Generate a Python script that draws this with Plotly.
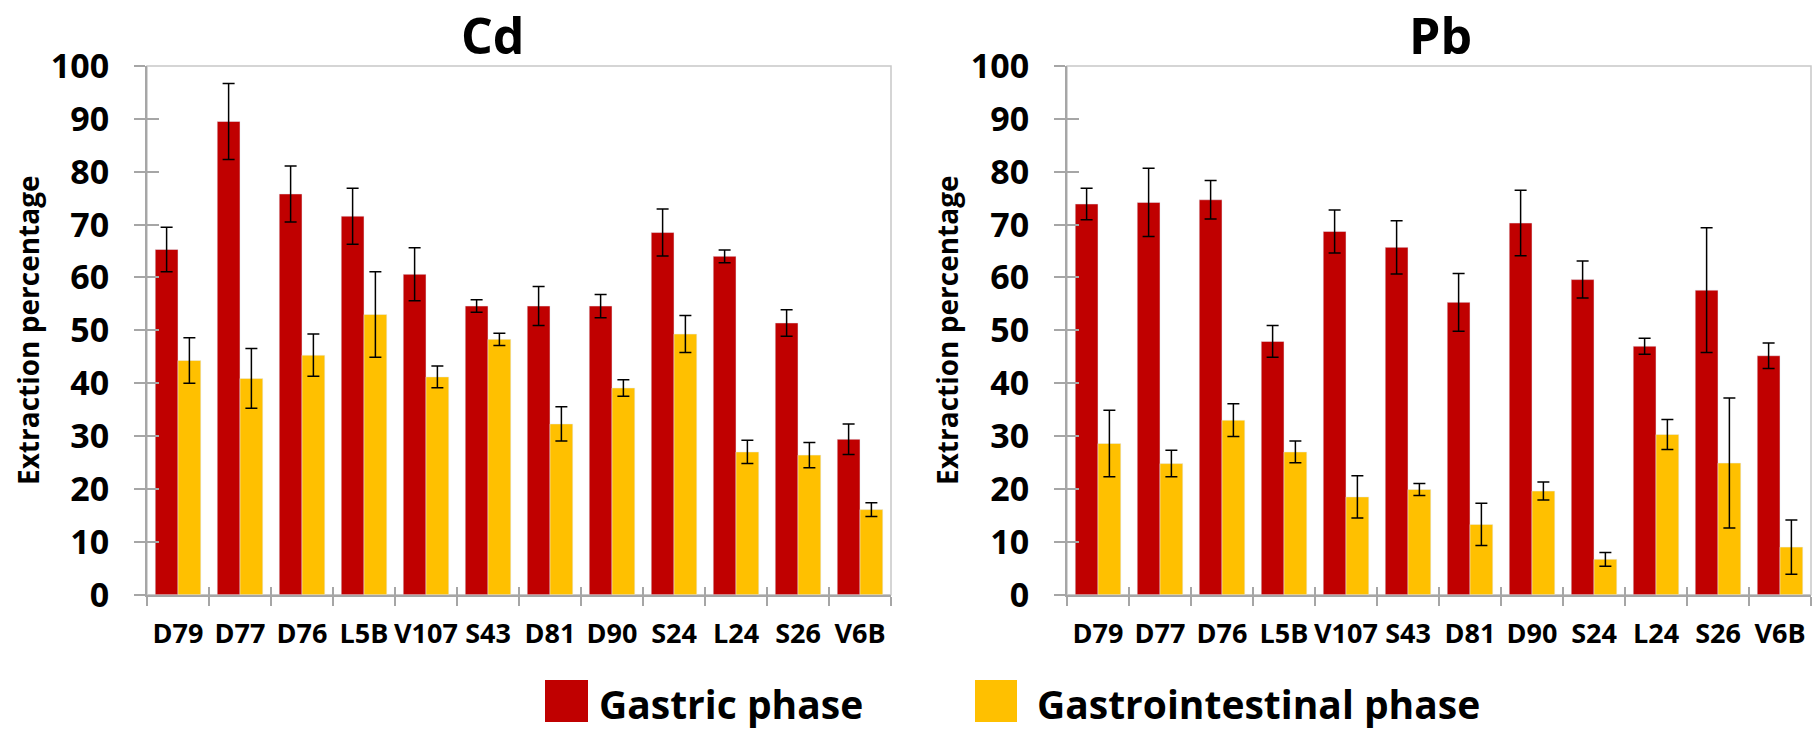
import plotly.graph_objects as go

categories = ["D79", "D77", "D76", "L5B", "V107", "S43", "D81", "D90", "S24", "L24", "S26", "V6B"]

cd_gastric = [65.3, 89.5, 75.8, 71.6, 60.6, 54.6, 54.6, 54.6, 68.5, 64.0, 51.4, 29.4]
cd_gastric_err = [4.2, 7.2, 5.3, 5.3, 5.0, 1.2, 3.7, 2.2, 4.45, 1.2, 2.5, 2.9]
cd_gi = [44.3, 40.9, 45.3, 53.0, 41.2, 48.3, 32.3, 39.1, 49.3, 27.0, 26.4, 16.1]
cd_gi_err = [4.3, 5.65, 4.0, 8.1, 2.05, 1.15, 3.25, 1.55, 3.5, 2.2, 2.4, 1.3]

pb_gastric = [73.9, 74.2, 74.7, 47.9, 68.7, 65.7, 55.3, 70.3, 59.6, 47.0, 57.6, 45.2]
pb_gastric_err = [3.0, 6.45, 3.65, 3.0, 4.05, 5.05, 5.45, 6.2, 3.5, 1.5, 11.8, 2.4]
pb_gi = [28.6, 24.8, 33.0, 27.0, 18.5, 19.9, 13.3, 19.6, 6.7, 30.3, 24.9, 9.0]
pb_gi_err = [6.3, 2.5, 3.1, 2.05, 4.0, 1.15, 4.0, 1.7, 1.3, 2.85, 12.3, 5.15]

series_names = ["Gastric phase", "Gastrointestinal phase"]
panel_titles = ["Cd", "Pb"]
y_title = "Extraction percentage"
y_ticks = list(range(0, 101, 10))

RED = "#C00000"
YEL = "#FFC000"
AXC = "#a6a6a6"
BORDER = "#c8c8c8"
FONT = "Open Sans"

W, H = 1812, 729
def px(x):
    return x / W
def py(y):
    return 1 - y / H

fig = go.Figure()

def err(a):
    return dict(type="data", array=a, color="black", thickness=1.5, width=6)

panels = [
    ("x", "y", cd_gastric, cd_gastric_err, cd_gi, cd_gi_err),
    ("x2", "y2", pb_gastric, pb_gastric_err, pb_gi, pb_gi_err),
]
for i, (xa, ya, g, ge, gi, gie) in enumerate(panels):
    fig.add_trace(go.Bar(x=categories, y=g, error_y=err(ge), marker_color=RED,
                         name=series_names[0], xaxis=xa, yaxis=ya, showlegend=False))
    fig.add_trace(go.Bar(x=categories, y=gi, error_y=err(gie), marker_color=YEL,
                         name=series_names[1], xaxis=xa, yaxis=ya, showlegend=False))

# dummy traces for overlay (inside-tick) axes
fig.add_trace(go.Scatter(x=[None], y=[None], xaxis="x3", yaxis="y", showlegend=False, hoverinfo="skip"))
fig.add_trace(go.Scatter(x=[None], y=[None], xaxis="x", yaxis="y3", showlegend=False, hoverinfo="skip"))
fig.add_trace(go.Scatter(x=[None], y=[None], xaxis="x4", yaxis="y2", showlegend=False, hoverinfo="skip"))
fig.add_trace(go.Scatter(x=[None], y=[None], xaxis="x2", yaxis="y4", showlegend=False, hoverinfo="skip"))

ydom = [py(594.7), py(66)]
xdoms = [[px(147), px(891)], [px(1067), px(1811)]]

n = len(categories)
bounds = [k - 0.5 for k in range(n + 1)]

def xaxis_main(dom, anchor):
    return dict(domain=dom, anchor=anchor, type="category", showline=True, linecolor=AXC,
                linewidth=2, ticks="outside", tickson="boundaries", ticklen=9, tickwidth=1.5,
                tickcolor=AXC, showgrid=False, zeroline=False, ticklabelstandoff=14,
                tickangle=0, automargin=False,
                tickfont=dict(family=FONT, size=27, color="black", weight="bold"))

def xaxis_over(over, anchor):
    return dict(overlaying=over, anchor=anchor, range=[-0.5, n - 0.5], tickvals=bounds,
                ticks="inside", ticklen=8, tickwidth=1.5, tickcolor=AXC, showticklabels=False,
                showline=False, showgrid=False, zeroline=False, automargin=False)

def yaxis_main(anchor):
    return dict(domain=ydom, anchor=anchor, range=[0, 100], tickvals=y_ticks, showline=True,
                linecolor=AXC, linewidth=2, ticks="outside", ticklen=11, tickwidth=1.5,
                tickcolor=AXC, showgrid=False, zeroline=False, ticklabelstandoff=18,
                automargin=False,
                tickfont=dict(family=FONT, size=34, color="black", weight="bold"))

def yaxis_over(over, anchor):
    return dict(overlaying=over, anchor=anchor, side="left", range=[0, 100], tickvals=y_ticks,
                ticks="inside", ticklen=12, tickwidth=1.5, tickcolor=AXC, showticklabels=False,
                showline=False, showgrid=False, zeroline=False, automargin=False)

shapes = []
for xr, yr in [("x domain", "y domain"), ("x2 domain", "y2 domain")]:
    shapes.append(dict(type="rect", xref=xr, yref=yr, x0=0, x1=1, y0=0, y1=1,
                       line=dict(color=BORDER, width=1.5), layer="below"))

# legend swatches
legend_items = [(545, 588, RED, 597, series_names[0]), (975, 1017, YEL, 1035, series_names[1])]
annotations = []
for x0, x1, col, tx, name in legend_items:
    shapes.append(dict(type="rect", xref="paper", yref="paper", x0=px(x0), x1=px(x1),
                       y0=py(722), y1=py(680), fillcolor=col, line=dict(width=0)))
    annotations.append(dict(text=name, x=px(tx), y=py(703), xref="paper", yref="paper",
                            xanchor="left", yanchor="middle", showarrow=False,
                            font=dict(family=FONT, size=39, color="black", weight="bold")))

for t, cx in zip(panel_titles, [493, 1440]):
    annotations.append(dict(text=t, x=px(cx), y=py(35), xref="paper", yref="paper",
                            xanchor="center", yanchor="middle", showarrow=False,
                            font=dict(family=FONT, size=50, color="black", weight="bold")))

for cx in [28, 947]:
    annotations.append(dict(text=y_title, x=px(cx), y=py(330), xref="paper", yref="paper",
                            xanchor="center", yanchor="middle", textangle=-90, showarrow=False,
                            font=dict(family=FONT, size=28, color="black", weight="bold")))

fig.update_layout(
    width=W, height=H,
    margin=dict(l=0, r=0, t=0, b=0, autoexpand=False),
    paper_bgcolor="white", plot_bgcolor="white",
    barmode="group", bargap=0.265, bargroupgap=0,
    showlegend=False,
    xaxis=xaxis_main(xdoms[0], "y"),
    xaxis2=xaxis_main(xdoms[1], "y2"),
    xaxis3=xaxis_over("x", "y"),
    xaxis4=xaxis_over("x2", "y2"),
    yaxis=yaxis_main("x"),
    yaxis2=yaxis_main("x2"),
    yaxis3=yaxis_over("y", "x"),
    yaxis4=yaxis_over("y2", "x2"),
    shapes=shapes,
    annotations=annotations,
)

fig.write_html("out.html")
